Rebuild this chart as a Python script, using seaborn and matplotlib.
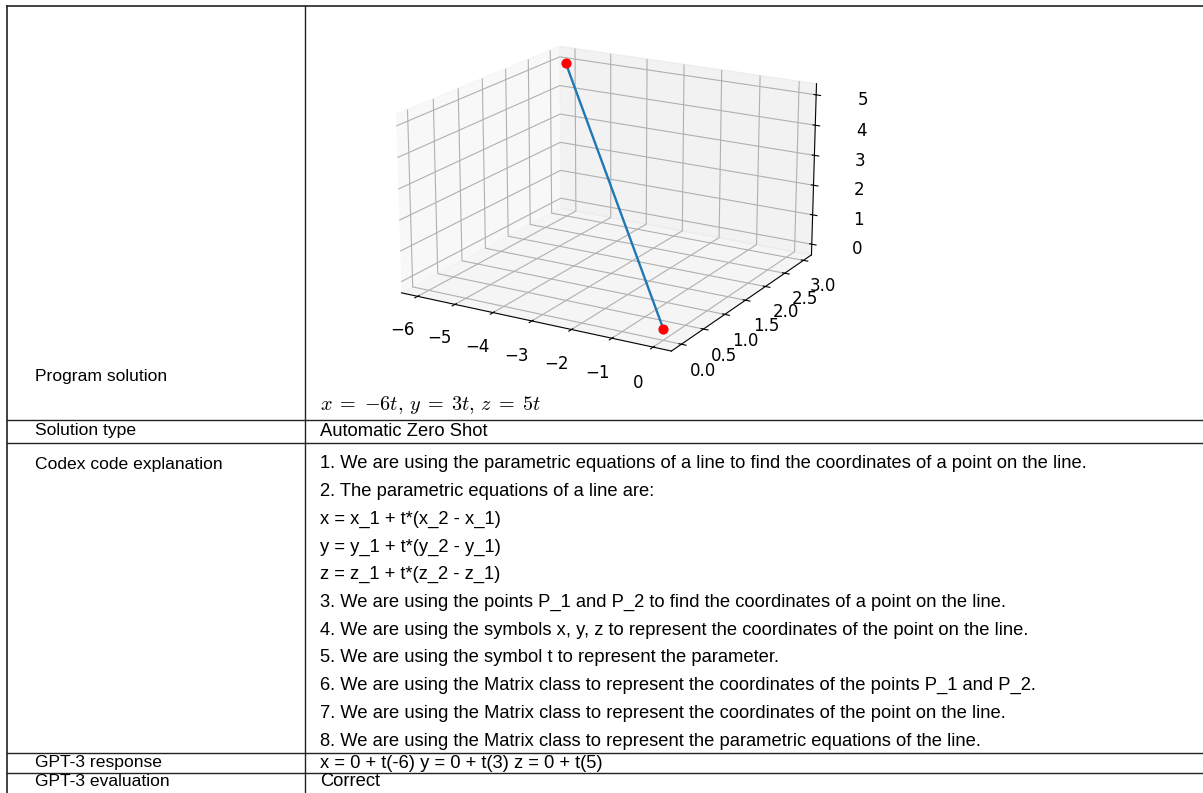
import matplotlib
matplotlib.use("Agg")
import matplotlib.pyplot as plt
import seaborn as sns
import numpy as np

# line endpoints of the program solution plot
x_pts = [-6, 0]
y_pts = [3, 0]
z_pts = [5, 0]
x_ticks = [-6, -5, -4, -3, -2, -1, 0]
y_ticks = [0.0, 0.5, 1.0, 1.5, 2.0, 2.5, 3.0]
z_ticks = [0, 1, 2, 3, 4, 5]

row_labels = ["Program solution", "Solution type", "Codex code explanation",
              "GPT-3 response", "GPT-3 evaluation"]
solution_type = "Automatic Zero Shot"
codex_lines = [
    "1. We are using the parametric equations of a line to find the coordinates of a point on the line.",
    "2. The parametric equations of a line are:",
    "x = x_1 + t*(x_2 - x_1)",
    "y = y_1 + t*(y_2 - y_1)",
    "z = z_1 + t*(z_2 - z_1)",
    "3. We are using the points P_1 and P_2 to find the coordinates of a point on the line.",
    "4. We are using the symbols x, y, z to represent the coordinates of the point on the line.",
    "5. We are using the symbol t to represent the parameter.",
    "6. We are using the Matrix class to represent the coordinates of the points P_1 and P_2.",
    "7. We are using the Matrix class to represent the coordinates of the point on the line.",
    "8. We are using the Matrix class to represent the parametric equations of the line.",
]
gpt3_response = "x = 0 + t(-6) y = 0 + t(3) z = 0 + t(5)"
gpt3_eval = "Correct"
answer_math = r"$x\;=\;{-6t},\,y\;=\;3t,\,z\;=\;5t$"

plt.rcParams["mathtext.fontset"] = "cm"
W, H = 1203, 793
fig = plt.figure(figsize=(W / 100, H / 100), dpi=100)

# 3d plot (drawn first, transparent background)
blue = sns.color_palette("tab10")[0]
ax = fig.add_axes([0.2835, 0.497, 0.44, 0.52], projection="3d")
ax.view_init(elev=18, azim=-60)
ax.set_box_aspect((4, 4, 2.42), zoom=1.1)
ax.plot(x_pts, y_pts, z_pts, color=blue, lw=1.7)
ax.scatter(x_pts, y_pts, z_pts, color="red", s=40, depthshade=False)
ax.set_xticks(x_ticks)
ax.set_yticks(y_ticks)
ax.set_zticks(z_ticks)
ax.tick_params(labelsize=12)
ax.tick_params(axis="z", pad=10)
ax.tick_params(axis="x", pad=6)
ax.patch.set_alpha(0)

# table frame
tab = fig.add_axes([0, 0, 1, 1])
tab.set_xlim(0, W)
tab.set_ylim(H, 0)
tab.axis("off")
tab.patch.set_alpha(0)
lc = "#222222"
tab.plot([7, W], [6, 6], color=lc, lw=1.2)
tab.plot([7, 7], [6, H], color=lc, lw=1.2)
tab.plot([305, 305], [6, H], color=lc, lw=1.0)
for yy in [420, 443, 753, 773]:
    tab.plot([7, W], [yy, yy], color=lc, lw=1.0)

lfont = dict(family="Liberation Sans", fontsize=12.6, color="black", va="center")
rfont = dict(family="Liberation Sans", fontsize=13.2, color="black", va="center")
tab.text(35, 377, row_labels[0], **lfont)
tab.text(35, 431, row_labels[1], **lfont)
tab.text(35, 464, row_labels[2], **lfont)
tab.text(35, 763, row_labels[3], **lfont)
tab.text(35, 782, row_labels[4], **lfont)

tab.text(320, 405, answer_math, fontsize=14.5, va="center")
tab.text(320, 431, solution_type, **rfont)
for i, line in enumerate(codex_lines):
    tab.text(320, 464 + i * 27.7, line, **rfont)
tab.text(320, 763, gpt3_response, **rfont)
tab.text(320, 782, gpt3_eval, **rfont)

fig.savefig("out.png", dpi=100)
